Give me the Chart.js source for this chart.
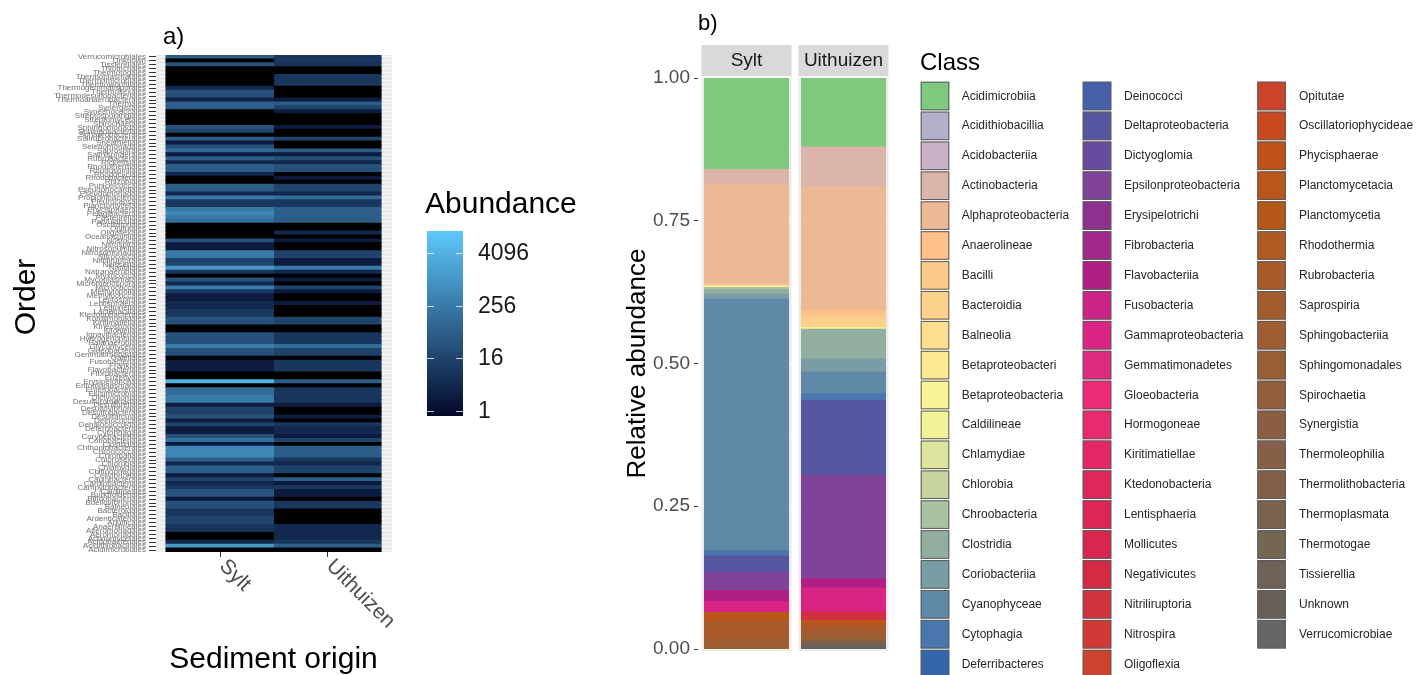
<!DOCTYPE html>
<html>
<head>
<meta charset="utf-8">
<script src="https://cdn.jsdelivr.net/npm/chart.js@4.4.1/dist/chart.umd.min.js"></script>
<style>
  html, body { margin: 0; padding: 0; background: #fff; width: 1416px; height: 675px; overflow: hidden; }
  #heat { position: absolute; left: 0; top: 0; }
  #bars { position: absolute; left: 600px; top: 0; }
</style>
</head>
<body>
<canvas id="heat" width="600" height="675"></canvas>
<canvas id="bars" width="816" height="675"></canvas>
<script>
// ---- data ----
const sites = ['Sylt', 'Uithuizen'];

// orders, alphabetical (drawn bottom -> top like ggplot)
const orders = [
  'Acidimicrobiales', 'Acidithiobacillales', 'Acidobacteriales', 'Actinomycetales', 'Aeromonadales',
  'Alteromonadales', 'Anaerolineales', 'Aquificales', 'Ardenticatenales', 'Bacillales',
  'Bacteroidales', 'Balneolales', 'Bdellovibrionales', 'Bifidobacteriales', 'Burkholderiales',
  'Caldilineales', 'Campylobacterales', 'Cardiobacteriales', 'Caulobacterales', 'Cellvibrionales',
  'Chitinophagales', 'Chlamydiales', 'Chlorobiales', 'Chloroflexales', 'Chromatiales',
  'Chroococcales', 'Chthoniobacterales', 'Clostridiales', 'Coriobacteriales', 'Corynebacteriales',
  'Cytophagales', 'Deferribacterales', 'Dehalococcoidales', 'Deinococcales', 'Desulfarculales',
  'Desulfobacterales', 'Desulfovibrionales', 'Desulfurellales', 'Desulfuromonadales', 'Dictyoglomales',
  'Elusimicrobiales', 'Enterobacterales', 'Entomoplasmatales', 'Erysipelotrichales', 'Euzebyales',
  'Fibrobacterales', 'Flavobacteriales', 'Frankiales', 'Fusobacteriales', 'Gaiellales',
  'Gemmatimonadales', 'Gloeobacterales', 'Glycomycetales', 'Halanaerobiales', 'Hydrogenophilales',
  'Ignavibacteriales', 'Kiloniellales', 'Kineosporiales', 'Kiritimatiellales', 'Kordiimonadales',
  'Ktedonobacterales', 'Lactobacillales', 'Legionellales', 'Lentisphaerales', 'Leptospirales',
  'Methylococcales', 'Methylophilales', 'Micrococcales', 'Micromonosporales', 'Mycoplasmatales',
  'Myxococcales', 'Natranaerobiales', 'Nautiliales', 'Neisseriales', 'Nitriliruptorales',
  'Nitrococcales', 'Nitrosomonadales', 'Nitrosopumilales', 'Nitrospirales', 'Nostocales',
  'Oceanospirillales', 'Oligoflexales', 'Opitutales', 'Oscillatoriales', 'Parvularculales',
  'Pasteurellales', 'Pelagibacterales', 'Phycisphaerales', 'Planctomycetales', 'Pleurocapsales',
  'Propionibacteriales', 'Pseudomonadales', 'Pseudonocardiales', 'Puniceicoccales', 'Rhizobiales',
  'Rhodobacterales', 'Rhodocyclales', 'Rhodospirillales', 'Rhodothermales', 'Rickettsiales',
  'Rubrobacterales', 'Salinisphaerales', 'Saprospirales', 'Selenomonadales', 'Sneathiellales',
  'Solirubrobacterales', 'Sphaerobacterales', 'Sphingobacteriales', 'Sphingomonadales', 'Spirochaetales',
  'Streptomycetales', 'Streptosporangiales', 'Synechococcales', 'Synergistales', 'Thermales',
  'Thermoanaerobacterales', 'Thermodesulfobacteriales', 'Thermoflexales', 'Thermogemmatisporales', 'Thermoleophilales',
  'Thermomicrobiales', 'Thermoplasmatales', 'Thermotogales', 'Thiotrichales', 'Tissierellales',
  'Unknown', 'Verrucomicrobiales'
];

// abundance per order, listed top row -> bottom row
const syltAbundance = [
  58, 0, 31, 0, 0, 0, 0, 0, 4, 35, 29, 3, 66, 61, 0, 0, 0, 0, 33, 17, 0, 62, 2, 30, 120, 2, 70, 4, 63, 57, 4, 0,
  0, 64, 55, 4, 260, 9, 8, 240, 480, 270, 130, 0, 0, 0, 0, 31, 2, 2, 250, 230, 15, 17, 1100, 8, 0, 33, 4, 270, 9, 2, 2,
  4, 4, 8, 9, 32, 30, 0, 0, 34, 29, 31, 250, 33, 28, 0, 2, 2, 2, 0, 0, 4300, 0, 125, 130, 260, 240, 2, 16, 15, 36, 2, 17,
  2, 2, 30, 130, 2, 500, 530, 480, 60, 4, 66, 58, 2, 16, 4, 8, 32, 35, 2, 31, 29, 8, 9, 16, 17, 8, 7, 0, 0, 4, 1050, 0
];
const uithAbundance = [
  8, 9, 7, 0, 0, 8, 8, 9, 0, 0, 0, 2, 62, 15, 2, 0, 0, 0, 2, 0, 0, 16, 0, 0, 60, 2, 31, 4, 33, 30, 0, 2,
  0, 16, 17, 4, 125, 8, 9, 64, 60, 66, 58, 0, 0, 4, 0, 2, 0, 0, 16, 15, 2, 2, 260, 4, 0, 2, 0, 17, 2, 0, 0,
  2, 0, 0, 0, 16, 17, 0, 0, 8, 9, 8, 130, 16, 15, 0, 8, 9, 8, 0, 0, 62, 0, 8, 9, 8, 8, 2, 0, 0, 2, 0, 8,
  4, 4, 2, 16, 0, 61, 66, 58, 8, 4, 16, 17, 0, 64, 2, 8, 2, 2, 0, 8, 9, 0, 0, 0, 0, 4, 4, 4, 4, 8, 64, 0
];
const colorbarTicks = [1, 16, 256, 4096];

const classes = [
  'Acidimicrobiia', 'Acidithiobacillia', 'Acidobacteriia', 'Actinobacteria', 'Alphaproteobacteria',
  'Anaerolineae', 'Bacilli', 'Bacteroidia', 'Balneolia', 'Betaproteobacteri',
  'Betaproteobacteria', 'Caldilineae', 'Chlamydiae', 'Chlorobia', 'Chroobacteria',
  'Clostridia', 'Coriobacteriia', 'Cyanophyceae', 'Cytophagia', 'Deferribacteres',
  'Deinococci', 'Deltaproteobacteria', 'Dictyoglomia', 'Epsilonproteobacteria', 'Erysipelotrichi',
  'Fibrobacteria', 'Flavobacteriia', 'Fusobacteria', 'Gammaproteobacteria', 'Gemmatimonadetes',
  'Gloeobacteria', 'Hormogoneae', 'Kiritimatiellae', 'Ktedonobacteria', 'Lentisphaeria',
  'Mollicutes', 'Negativicutes', 'Nitriliruptoria', 'Nitrospira', 'Oligoflexia',
  'Opitutae', 'Oscillatoriophycideae', 'Phycisphaerae', 'Planctomycetacia', 'Planctomycetia',
  'Rhodothermia', 'Rubrobacteria', 'Saprospiria', 'Sphingobacteriia', 'Sphingomonadales',
  'Spirochaetia', 'Synergistia', 'Thermoleophilia', 'Thermolithobacteria', 'Thermoplasmata',
  'Thermotogae', 'Tissierellia', 'Unknown', 'Verrucomicrobiae'
];
const syltShare = [
  0.160, 0, 0, 0.026, 0.175, 0, 0.002, 0.002, 0, 0,
  0.002, 0, 0, 0, 0.004, 0.008, 0.008, 0.441, 0.009, 0,
  0, 0.029, 0, 0.032, 0, 0, 0.019, 0, 0.019, 0,
  0, 0, 0, 0, 0, 0, 0, 0, 0, 0,
  0, 0, 0, 0.016, 0, 0, 0.030, 0, 0.018, 0,
  0, 0, 0, 0, 0, 0, 0, 0, 0
];
const uithShare = [
  0.120, 0, 0, 0.070, 0.216, 0.008, 0.007, 0.015, 0, 0,
  0.003, 0, 0, 0, 0, 0.052, 0.023, 0.038, 0.012, 0,
  0, 0.131, 0, 0.181, 0, 0, 0.016, 0, 0.042, 0,
  0, 0, 0, 0, 0, 0, 0.008, 0.007, 0, 0,
  0, 0, 0, 0.009, 0, 0, 0.014, 0, 0, 0.012,
  0, 0, 0, 0.007, 0, 0, 0.004, 0.004, 0
];
const classColors = [
  '#7FC97F', '#B3B0CB', '#C9B1C6', '#DBB5A9', '#EDB994', '#FCC088', '#FBC98A', '#FBD18C', '#FBDF8E', '#FBE990',
  '#F8F495', '#F0F497', '#DDE39C', '#C7D49F', '#ABC1A3', '#92AE9F', '#7A9CA5', '#6089A8', '#4A77AD', '#3465AA',
  '#4461A9', '#5656A0', '#684A9E', '#7F4398', '#8C318E', '#A2288C', '#AF1F84', '#CC2486', '#D92484', '#E02A7F',
  '#ED2B77', '#E92970', '#E42866', '#E0275D', '#DB2656', '#D8264E', '#D42B45', '#D0333E', '#CF3A37', '#CD4330',
  '#CB432B', '#C6491F', '#C05119', '#BA5619', '#B45818', '#AE5A22', '#A85A2A', '#A35C2D', '#9F5E31', '#9A5E34',
  '#925E3D', '#8B5D43', '#875E47', '#825F48', '#7C614E', '#756553', '#6F6358', '#67605A', '#666666'
];

// ---- helpers ----
const FONT = '"Liberation Sans", Arial, Helvetica, sans-serif';
Chart.defaults.font.family = FONT;

const LOG_MIN = -0.38, LOG_MAX = 13.71;
const LOW = [3, 8, 42], HIGH = [94, 200, 253];
const logPos = v => (Math.log2(v) - LOG_MIN) / (LOG_MAX - LOG_MIN);
const abundanceColor = v => {
  if (!v) return '#000000';
  const t = Math.min(1, Math.max(0, logPos(v)));
  const c = LOW.map((lo, k) => Math.round(lo + (HIGH[k] - lo) * t));
  return `rgb(${c[0]},${c[1]},${c[2]})`;
};

function text(ctx, str, x, y, font, color, align, base, angle) {
  ctx.save();
  ctx.translate(x, y);
  if (angle) ctx.rotate(angle);
  ctx.font = font;
  ctx.fillStyle = color;
  ctx.textAlign = align || 'left';
  ctx.textBaseline = base || 'alphabetic';
  ctx.fillText(str, 0, 0);
  ctx.restore();
}

// ---- a) heatmap ----
const heatValues = [syltAbundance, uithAbundance];

const heatDecor = {
  id: 'heatDecor',
  beforeDraw(chart) {
    const { ctx, chartArea: a } = chart;
    ctx.save();
    ctx.fillStyle = '#EBEBEB';
    ctx.fillRect(a.left, a.top, a.right - a.left, a.bottom - a.top);
    ctx.restore();
  },
  beforeDatasetsDraw(chart) {
    const { ctx, chartArea: a, scales: { x } } = chart;
    const x0 = x.getPixelForValue(0), x1 = x.getPixelForValue(sites.length);
    ctx.save();
    ctx.fillStyle = '#000';
    ctx.fillRect(x0, a.top, x1 - x0, a.bottom - a.top);
    ctx.restore();
  },
  afterDraw(chart) {
    const { ctx, chartArea: a, scales: { x } } = chart;
    ctx.save();
    ctx.strokeStyle = '#333';
    ctx.lineWidth = 1;
    sites.forEach((s, i) => {
      const px = Math.round(x.getPixelForValue(i + 0.5)) + 0.5;
      ctx.beginPath();
      ctx.moveTo(px, a.bottom);
      ctx.lineTo(px, a.bottom + 5);
      ctx.stroke();
      text(ctx, s, px + 2, a.bottom + 11, `21px ${FONT}`, '#4D4D4D', 'left', 'middle', Math.PI / 4);
    });
    ctx.restore();

    text(ctx, 'a)', 163, 44, `24px ${FONT}`, '#000');
    text(ctx, 'Order', 27, 297, `30px ${FONT}`, '#000', 'center', 'middle', -Math.PI / 2);
    text(ctx, 'Sediment origin', (x.getPixelForValue(0) + x.getPixelForValue(2)) / 2, 668, `30px ${FONT}`, '#000', 'center');

    // colour bar legend
    const cbL = 427, cbR = 463, cbTop = 231, cbBot = 416;
    text(ctx, 'Abundance', 425, 213, `30px ${FONT}`, '#000');
    const g = ctx.createLinearGradient(0, cbBot, 0, cbTop);
    g.addColorStop(0, `rgb(${LOW.join(',')})`);
    g.addColorStop(1, `rgb(${HIGH.join(',')})`);
    ctx.fillStyle = g;
    ctx.fillRect(cbL, cbTop, cbR - cbL, cbBot - cbTop);
    ctx.save();
    ctx.strokeStyle = 'rgba(255,255,255,0.75)';
    ctx.lineWidth = 1;
    colorbarTicks.forEach(v => {
      const y = Math.round(cbBot - logPos(v) * (cbBot - cbTop)) + 0.5;
      ctx.beginPath();
      ctx.moveTo(cbL, y); ctx.lineTo(cbL + 7, y);
      ctx.moveTo(cbR - 7, y); ctx.lineTo(cbR, y);
      ctx.stroke();
      text(ctx, String(v), 478, y, `23px ${FONT}`, '#1A1A1A', 'left', 'middle');
    });
    ctx.restore();
  }
};

new Chart(document.getElementById('heat'), {
  type: 'bar',
  data: {
    labels: orders.slice().reverse(),
    datasets: sites.map((site, i) => ({
      label: site,
      data: heatValues[i].map(() => [i, i + 1]),
      backgroundColor: heatValues[i].map(abundanceColor),
      borderWidth: 0,
      inflateAmount: 0.5,
      barPercentage: 1,
      categoryPercentage: 1,
      grouped: false
    }))
  },
  options: {
    indexAxis: 'y',
    responsive: false,
    animation: false,
    layout: { padding: { top: 55, bottom: 123, left: 0, right: 208 } },
    plugins: { legend: { display: false }, tooltip: { enabled: false } },
    scales: {
      x: { type: 'linear', min: -0.093, max: 2.102, display: false },
      y: {
        afterFit(s) { s.width = 156; },
        border: { display: false },
        grid: { offset: false, color: '#ffffff', lineWidth: 0.6, tickLength: 7, tickColor: '#333333', tickWidth: 1 },
        ticks: { autoSkip: false, font: { size: 8 }, color: '#707070', padding: 3 }
      }
    }
  },
  plugins: [heatDecor]
});

// ---- b) stacked relative abundance ----
const legendRows = 20;
const barDecor = {
  id: 'barDecor',
  beforeDatasetsDraw(chart) {
    const { ctx, chartArea: a, scales: { y } } = chart;
    const meta = chart.getDatasetMeta(0);
    ctx.save();
    meta.data.forEach(bar => {
      const { x, width } = bar.getProps(['x', 'width'], true);
      const l = x - width / 2 - 3, r = x + width / 2 + 3;
      ctx.fillStyle = '#EBEBEB';
      ctx.fillRect(l, a.top - 1.5, r - l, a.bottom - a.top + 3.5);
      ctx.strokeStyle = '#FFFFFF';
      for (let k = 0; k <= 8; k++) {
        const py = y.getPixelForValue(k / 8);
        ctx.lineWidth = k % 2 ? 0.5 : 1.1;
        ctx.beginPath();
        ctx.moveTo(l, py); ctx.lineTo(r, py);
        ctx.stroke();
      }
    });
    ctx.restore();
  },
  afterDraw(chart) {
    const { ctx, chartArea: a } = chart;
    const meta = chart.getDatasetMeta(0);
    meta.data.forEach((bar, j) => {
      const { x, width } = bar.getProps(['x', 'width'], true);
      const l = x - width / 2 - 3, r = x + width / 2 + 3;
      ctx.fillStyle = '#D9D9D9';
      ctx.fillRect(l, 45, r - l, 31);
      text(ctx, sites[j], x, 61, `19px ${FONT}`, '#1A1A1A', 'center', 'middle');
    });
    text(ctx, 'b)', 98, 30, `22px ${FONT}`, '#000');
    text(ctx, 'Relative abundance', 38, (a.top + a.bottom) / 2, `26px ${FONT}`, '#000', 'center', 'middle', -Math.PI / 2);

    // class legend
    text(ctx, 'Class', 320, 70, `24px ${FONT}`, '#000');
    const keyX = [320.7, 482.7, 657.3], labX = [361.7, 524, 699];
    classes.forEach((c, i) => {
      const col = Math.floor(i / legendRows), row = i % legendRows;
      const top = 81.7 + row * 29.9;
      ctx.fillStyle = classColors[i];
      ctx.fillRect(keyX[col], top, 28.6, 28.6);
      ctx.strokeStyle = '#5a5a5a';
      ctx.lineWidth = 1;
      ctx.strokeRect(keyX[col] + 0.5, top + 0.5, 27.6, 27.6);
      text(ctx, c, labX[col], top + 14.5, `12px ${FONT}`, '#262626', 'left', 'middle');
    });
  }
};

new Chart(document.getElementById('bars'), {
  type: 'bar',
  data: {
    labels: sites,
    datasets: classes.map((c, i) => ({
      label: c,
      data: [syltShare[i] || null, uithShare[i] || null],
      backgroundColor: classColors[i],
      borderWidth: 0,
      inflateAmount: 0.5
    })).reverse()
  },
  options: {
    responsive: false,
    animation: false,
    layout: { padding: { top: 78, bottom: 26, left: 0, right: 524 } },
    datasets: { bar: { categoryPercentage: 0.866, barPercentage: 1 } },
    plugins: { legend: { display: false }, tooltip: { enabled: false } },
    scales: {
      x: { stacked: true, display: false },
      y: {
        stacked: true,
        min: 0,
        max: 1,
        afterFit(s) { s.width = 98; },
        border: { display: false },
        grid: { drawOnChartArea: false, tickLength: 4, tickColor: '#333333', tickWidth: 1 },
        ticks: { stepSize: 0.25, callback: v => v.toFixed(2), font: { size: 19 }, color: '#4D4D4D', padding: 4 }
      }
    }
  },
  plugins: [barDecor]
});
</script>
</body>
</html>
